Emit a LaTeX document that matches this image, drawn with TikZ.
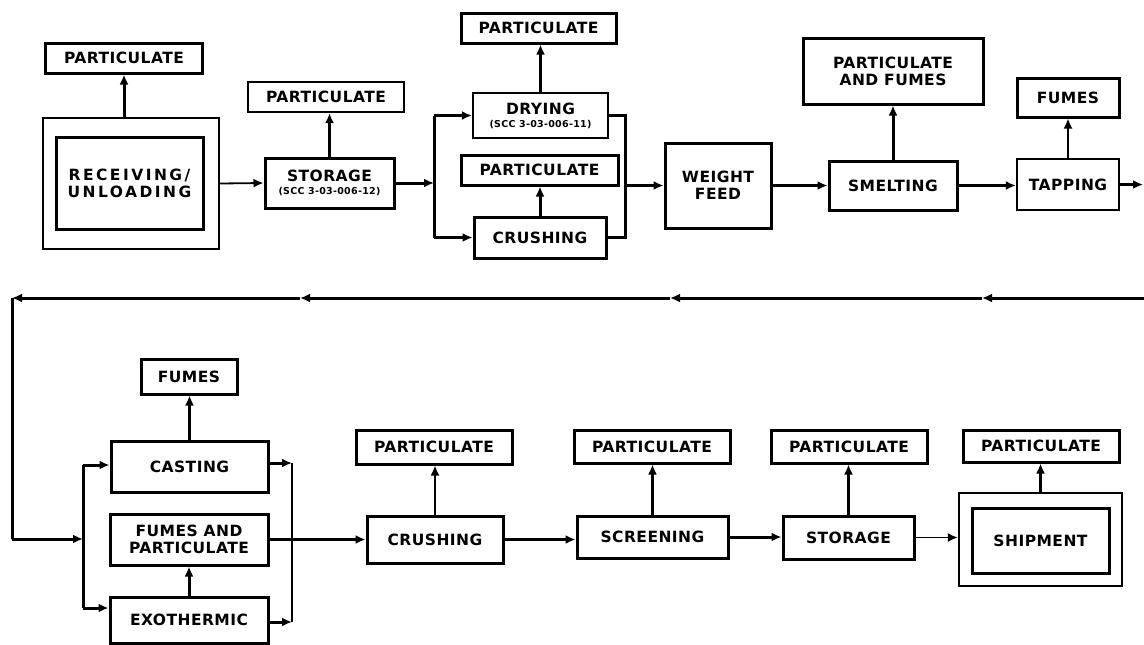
\documentclass[tikz,border=0pt]{standalone}
\usepackage{fontspec}
\setmainfont{DejaVu Sans}
\newfontfamily\lblfont[LetterSpace=3]{DejaVu Sans}
\newfontfamily\widelblfont[LetterSpace=16]{DejaVu Sans}
\usetikzlibrary{arrows.meta}
\begin{document}
\begin{tikzpicture}[x=1pt,y=-1pt,
 blk/.style={draw,line width=3pt,inner sep=0pt,font=\lblfont\bfseries\fontsize{15.5}{17}\selectfont,align=center},
 thinblk/.style={blk,line width=2.2pt},
 arr/.style={line width=3pt,-{Latex[length=10pt,width=9pt]}},
 thinarr/.style={line width=1.8pt,-{Latex[length=10pt,width=9pt]}},
 ln/.style={line width=3pt},
 thinln/.style={line width=2pt}
]
\useasboundingbox (0,0) rectangle (1144,645);
% ---------- top row ----------
\node[blk,minimum width=157pt,minimum height=30pt] (p1) at (124,58) {PARTICULATE};
\node[thinblk,minimum width=176pt,minimum height=131pt] (recvo) at (131,183.5) {};
\node[blk,minimum width=147pt,minimum height=92pt,font=\widelblfont\bfseries\fontsize{15.5}{17}\selectfont] (recvi) at (129.5,183) {RECEIVING/\\UNLOADING};
\node[thinblk,minimum width=156pt,minimum height=30pt] (p2) at (326,97) {PARTICULATE};
\node[blk,minimum width=129pt,minimum height=50pt] (stor1) at (329.5,183) {STORAGE\\[-4pt]{\fontsize{9.5}{10}\selectfont (SCC 3-03-006-12)}};
\node[blk,minimum width=155pt,minimum height=30pt] (p3) at (538.5,28) {PARTICULATE};
\node[thinblk,minimum width=135pt,minimum height=45pt] (dry) at (540.5,115.5) {DRYING\\[-4pt]{\fontsize{9.5}{10}\selectfont (SCC 3-03-006-11)}};
\node[blk,minimum width=157pt,minimum height=30pt] (p4) at (539.5,170) {PARTICULATE};
\node[blk,minimum width=132pt,minimum height=41pt] (crush1) at (540,237.5) {CRUSHING};
\node[blk,minimum width=106pt,minimum height=85pt] (wf) at (718,185.5) {WEIGHT\\FEED};
\node[blk,minimum width=180pt,minimum height=66pt] (pf) at (893,71) {PARTICULATE\\AND FUMES};
\node[blk,minimum width=128pt,minimum height=49pt] (smelt) at (893,185.5) {SMELTING};
\node[blk,minimum width=102pt,minimum height=39pt] (fumes1) at (1068,97.5) {FUMES};
\node[thinblk,minimum width=102pt,minimum height=51pt] (tap) at (1068,184.5) {TAPPING};
% ---------- bottom row ----------
\node[blk,minimum width=96pt,minimum height=35pt] (fumes2) at (189,376.5) {FUMES};
\node[blk,minimum width=157pt,minimum height=51pt] (cast) at (189.5,466.5) {CASTING};
\node[blk,minimum width=158pt,minimum height=51pt] (fp) at (189,539.5) {FUMES AND\\PARTICULATE};
\node[blk,minimum width=158pt,minimum height=46pt] (exo) at (189,620) {EXOTHERMIC};
\node[blk,minimum width=156pt,minimum height=34pt] (p5) at (434,447) {PARTICULATE};
\node[blk,minimum width=136pt,minimum height=47pt] (crush2) at (435,539.5) {CRUSHING};
\node[blk,minimum width=156pt,minimum height=33pt] (p6) at (652,446.5) {PARTICULATE};
\node[blk,minimum width=151pt,minimum height=42pt] (scr) at (652.5,537) {SCREENING};
\node[blk,minimum width=156pt,minimum height=33pt] (p7) at (849,446.5) {PARTICULATE};
\node[blk,minimum width=131pt,minimum height=43pt] (stor2) at (848.5,537.5) {STORAGE};
\node[blk,minimum width=156pt,minimum height=32pt] (p8) at (1041,446) {PARTICULATE};
\node[thinblk,minimum width=163pt,minimum height=93pt] (shipo) at (1040.5,539.5) {};
\node[blk,minimum width=137pt,minimum height=65pt] (shipi) at (1040.5,540.5) {SHIPMENT};
% ---------- coordinates ----------
\coordinate (s1) at (434,183);
\coordinate (m1) at (625,185.5);
\coordinate (out) at (1143,184.5);
\coordinate (rin) at (1144,298);
\coordinate (r1) at (982,298);
\coordinate (r2) at (670,298);
\coordinate (r3) at (300,298);
\coordinate (corner) at (12,298);
\coordinate (c2) at (12,539);
\coordinate (s2) at (83,539);
\coordinate (s2t) at (83,465);
\coordinate (s2b) at (83,608);
\coordinate (m2t) at (292,463);
\coordinate (m2b) at (292,622);
% ---------- top connectors ----------
\draw[arr] (p1.south |- recvo.north) -- (p1.south);
\draw[thinarr] (recvo.east) -- (stor1.west);
\draw[arr] (stor1.north) -- (stor1.north |- p2.south);
\draw[arr] (stor1.east) -- (s1);
\draw[ln] (s1 |- dry) -- (s1 |- crush1);
\draw[arr] (s1 |- dry) -- (dry.west);
\draw[arr] (s1 |- crush1) -- (crush1.west);
\draw[arr] (dry.north) -- (dry.north |- p3.south);
\draw[arr] (crush1.north) -- (crush1.north |- p4.south);
\draw[ln] (dry.east) -- (dry.east -| m1) -- (crush1.east -| m1) -- (crush1.east);
\draw[arr] (m1) -- (m1 -| wf.west);
\draw[arr] (wf.east) -- (wf.east -| smelt.west);
\draw[arr] (smelt.north) -- (pf.south);
\draw[arr] (smelt.east) -- (smelt.east -| tap.west);
\draw[thinarr] (tap.north) -- (fumes1.south);
\draw[arr] (tap.east) -- (out);
% ---------- return line ----------
\draw[arr] (rin) -- (r1);
\draw[arr] (r1) -- (r2);
\draw[arr] (r2) -- (r3);
\draw[arr] (r3) -- (corner);
\draw[ln] (corner) -- (c2);
\draw[arr] (c2) -- (s2);
% ---------- bottom connectors ----------
\draw[ln] (s2t) -- (s2b);
\draw[arr] (s2t) -- (s2t -| cast.west);
\draw[arr] (s2b) -- (s2b -| exo.west);
\draw[arr] (cast.north) -- (cast.north |- fumes2.south);
\draw[arr] (exo.north) -- (exo.north |- fp.south);
\draw[arr] (cast.east |- m2t) -- (m2t);
\draw[arr] (exo.east |- m2b) -- (m2b);
\draw[thinln] (m2t) -- (m2b);
\draw[arr] (fp.east) -- (crush2.west);
\draw[thinarr] (crush2.north) -- (crush2.north |- p5.south);
\draw[arr] (crush2.east) -- (crush2.east -| scr.west);
\draw[arr] (scr.north) -- (scr.north |- p6.south);
\draw[arr] (scr.east) -- (scr.east -| stor2.west);
\draw[arr] (stor2.north) -- (stor2.north |- p7.south);
\draw[thinarr] (stor2.east) -- (stor2.east -| shipo.west);
\draw[arr] (shipo.north) -- (shipo.north |- p8.south);
\end{tikzpicture}
\end{document}
